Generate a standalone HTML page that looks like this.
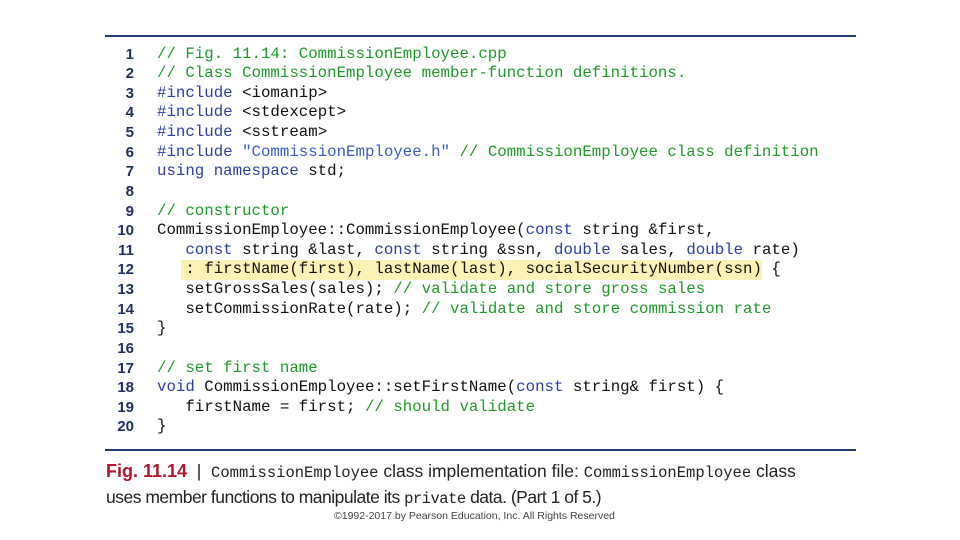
<!DOCTYPE html>
<html><head><meta charset="utf-8"><style>
body{margin:0;width:960px;height:540px;background:#fff;position:relative;overflow:hidden;font-family:"Liberation Sans",sans-serif}
.rule{position:absolute;left:105px;width:751px;height:2px;background:#1f3b73}
#nums{position:absolute;left:106px;top:44.5px;width:28px;text-align:right;font:bold 15px/19.63px "Liberation Sans",sans-serif;color:#1f2f63}
#code{position:absolute;left:157px;top:44.5px;font:15.75px/19.63px "Liberation Mono",monospace;color:#111;white-space:pre}
.c{color:#1f9a2a}.k{color:#2b3ea8}.s{color:#3a5cc8}
.hl{position:absolute;left:181px;top:260px;width:581px;height:20px;background:#fcf2b6}
#cap{position:absolute;left:106px;top:459px;font-size:17.5px;color:#222;line-height:24px;white-space:nowrap}
#cap b{color:#b5162b;font-size:18px}
#cap .m{font-family:"Liberation Mono",monospace;font-size:15.5px}
#l2{letter-spacing:-0.5px}
#copy{position:absolute;left:334px;top:510px;font-size:10.5px;color:#444}
</style></head><body>
<div class="rule" style="top:35px"></div>
<div class="rule" style="top:449px"></div>
<div class="hl"></div>
<div id="nums">1<br>2<br>3<br>4<br>5<br>6<br>7<br>8<br>9<br>10<br>11<br>12<br>13<br>14<br>15<br>16<br>17<br>18<br>19<br>20</div>
<div id="code"><span class="c">// Fig. 11.14: CommissionEmployee.cpp</span>
<span class="c">// Class CommissionEmployee member-function definitions.</span>
<span class="k">#include</span> &lt;iomanip&gt;
<span class="k">#include</span> &lt;stdexcept&gt;
<span class="k">#include</span> &lt;sstream&gt;
<span class="k">#include</span> <span class="s">"CommissionEmployee.h"</span> <span class="c">// CommissionEmployee class definition</span>
<span class="k">using namespace</span> std;

<span class="c">// constructor</span>
CommissionEmployee::CommissionEmployee(<span class="k">const</span> string &amp;first,
   <span class="k">const</span> string &amp;last, <span class="k">const</span> string &amp;ssn, <span class="k">double</span> sales, <span class="k">double</span> rate)
   : firstName(first), lastName(last), socialSecurityNumber(ssn) {
   setGrossSales(sales); <span class="c">// validate and store gross sales</span>
   setCommissionRate(rate); <span class="c">// validate and store commission rate</span>
}

<span class="c">// set first name</span>
<span class="k">void</span> CommissionEmployee::setFirstName(<span class="k">const</span> string&amp; first) {
   firstName = first; <span class="c">// should validate</span>
}</div>
<div id="cap"><b>Fig. 11.14</b> &nbsp;|&nbsp; <span class="m">CommissionEmployee</span> class implementation file: <span class="m">CommissionEmployee</span> class<br><span id="l2">uses member functions to manipulate its <span class="m">private</span> data. (Part 1 of 5.)</span></div>
<div id="copy">©1992-2017 by Pearson Education, Inc. All Rights Reserved</div>
</body></html>
